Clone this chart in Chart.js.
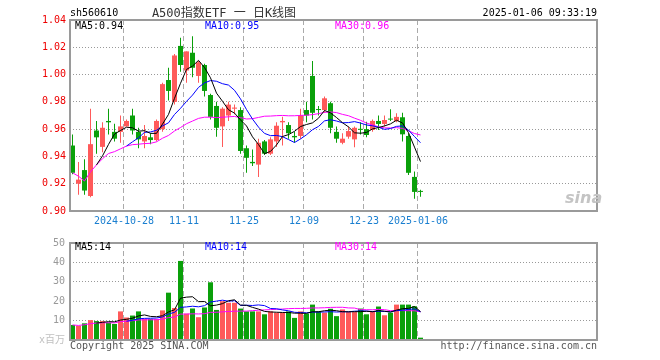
<!DOCTYPE html>
<html>
<head>
<meta charset="utf-8">
<script src="https://cdn.jsdelivr.net/npm/chart.js@4.4.1/dist/chart.umd.min.js"></script>
<style>
  body { margin: 0; background: #fff; width: 660px; height: 360px; overflow: hidden; position: relative;
         font-family: "DejaVu Sans Mono", "Noto Sans CJK SC", monospace; }
  canvas { position: absolute; left: 0; }
  #kCanvas { top: 0; }
  #vCanvas { top: 232px; }
  .t { position: absolute; font-size: 10px; line-height: 12px; white-space: pre; }
</style>
</head>
<body>
<canvas id="kCanvas" width="660" height="232"></canvas>
<canvas id="vCanvas" width="660" height="128"></canvas>

<div class="t" style="left:70px;top:7px;color:#000">sh560610</div>
<div class="t" style="left:224px;top:6px;font-size:12px;line-height:14px;color:#333;transform:translateX(-50%)">A500指数ETF 一 日K线图</div>
<div class="t" style="right:63px;top:7px;color:#000">2025-01-06 09:33:19</div>

<div class="t" style="left:75px;top:20px;color:#000">MA5:0.94</div>
<div class="t" style="left:205px;top:20px;color:#0000ff">MA10:0.95</div>
<div class="t" style="left:335px;top:20px;color:#ff00ff">MA30:0.96</div>

<div class="t" style="left:75px;top:241px;color:#000">MA5:14</div>
<div class="t" style="left:205px;top:241px;color:#0000ff">MA10:14</div>
<div class="t" style="left:335px;top:241px;color:#ff00ff">MA30:14</div>

<div class="t" style="left:565px;top:188px;font:italic bold 16px 'DejaVu Sans';color:#c4c4c4">sina</div>

<div class="t" style="left:70px;top:340px;color:#555">Copyright 2025 SINA.COM</div>
<div class="t" style="right:63px;top:340px;color:#555">http://finance.sina.com.cn</div>

<script>
// trading days shown
const dates = [
  '2024-10-15','2024-10-16','2024-10-17','2024-10-18','2024-10-21','2024-10-22','2024-10-23','2024-10-24','2024-10-25',
  '2024-10-28','2024-10-29','2024-10-30','2024-10-31','2024-11-01','2024-11-04','2024-11-05','2024-11-06','2024-11-07','2024-11-08',
  '2024-11-11','2024-11-12','2024-11-13','2024-11-14','2024-11-15','2024-11-18','2024-11-19','2024-11-20','2024-11-21','2024-11-22',
  '2024-11-25','2024-11-26','2024-11-27','2024-11-28','2024-11-29','2024-12-02','2024-12-03','2024-12-04','2024-12-05','2024-12-06',
  '2024-12-09','2024-12-10','2024-12-11','2024-12-12','2024-12-13','2024-12-16','2024-12-17','2024-12-18','2024-12-19','2024-12-20',
  '2024-12-23','2024-12-24','2024-12-25','2024-12-26','2024-12-27','2024-12-30','2024-12-31','2025-01-02','2025-01-03','2025-01-06'
];
const tickDays = ['2024-10-28','2024-11-11','2024-11-25','2024-12-09','2024-12-23','2025-01-06'];
const tickLabels = ['2024-10-28','11-11','11-25','12-09','12-23','2025-01-06'];
const priceTicks = [0.90, 0.92, 0.94, 0.96, 0.98, 1.00, 1.02, 1.04];
const volumeTicks = [0, 10, 20, 30, 40, 50];

const openPrices = [
  0.948,0.920,0.930,0.911,0.959,0.947,0.966,0.958,0.958,
  0.962,0.970,0.958,0.951,0.954,0.952,0.960,0.996,0.980,1.021,
  1.003,1.016,0.999,1.007,0.985,0.977,0.962,0.970,0.975,0.974,
  0.946,0.936,0.934,0.951,0.942,0.951,0.965,0.963,0.955,0.955,
  0.974,0.999,0.9745,0.974,0.979,0.958,0.950,0.9545,0.9525,0.960,
  0.960,0.9594,0.966,0.9638,0.9672,0.966,0.9687,0.955,0.925,0.9145
];
const highPrices = [
  0.956,0.936,0.938,0.975,0.966,0.965,0.975,0.964,0.970,
  0.967,0.975,0.961,0.963,0.957,0.967,0.994,1.005,1.015,1.027,
  1.017,1.028,1.010,1.008,0.986,0.980,0.976,0.980,0.978,0.976,
  0.948,0.945,0.953,0.952,0.954,0.965,0.969,0.965,0.958,0.975,
  0.980,1.010,0.977,0.984,0.980,0.962,0.957,0.962,0.962,0.965,
  0.9655,0.967,0.970,0.970,0.9745,0.9716,0.972,0.957,0.929,0.9155
];
const lowPrices = [
  0.927,0.912,0.912,0.910,0.942,0.943,0.956,0.951,0.950,
  0.962,0.956,0.946,0.946,0.949,0.951,0.958,0.981,0.978,1.002,
  0.994,0.998,0.994,0.984,0.967,0.9545,0.947,0.966,0.971,0.942,
  0.928,0.933,0.925,0.941,0.941,0.947,0.948,0.953,0.950,0.953,
  0.965,0.967,0.970,0.972,0.957,0.950,0.949,0.953,0.9467,0.956,
  0.954,0.958,0.9594,0.962,0.966,0.965,0.951,0.9264,0.909,0.9105
];
const closePrices = [
  0.928,0.923,0.915,0.949,0.954,0.961,0.965,0.953,0.962,
  0.966,0.959,0.9525,0.955,0.952,0.966,0.993,0.988,1.014,1.007,
  1.017,1.005,1.009,0.988,0.969,0.961,0.975,0.978,0.9758,0.944,
  0.939,0.935,0.950,0.942,0.9525,0.9625,0.966,0.957,0.954,0.970,
  0.970,0.972,0.974,0.9826,0.961,0.953,0.953,0.9586,0.961,0.9595,
  0.9557,0.966,0.9638,0.9667,0.967,0.969,0.9562,0.928,0.914,0.914
];
// volume, millions
const volumes = [
  7.75,7.25,8.6,10.25,9.75,9.75,8.9,8.25,14.75,
  11.6,12.6,14.75,10.9,10.9,10.8,15.25,24.4,16.5,40.75,
  13.6,16.25,11.75,16.75,29.75,15.5,20,19.2,19.2,16.2,
  14.75,14.75,14.75,13.25,14.75,14.1,14.1,14.75,11.4,14.75,
  13.6,18.25,14.75,14.1,16.1,12.3,15.75,14.4,14.4,16.2,
  13.25,14.75,17.25,12.75,14.1,18.25,18.25,18.25,17.4,1.2
];

const upColor = '#ff5a5a';
const downColor = '#0aa00a';
const monoFont = '"DejaVu Sans Mono", "Noto Sans CJK SC", monospace';

const barColors = closePrices.map((c, i) => c >= openPrices[i] ? upColor : downColor);
const tickPos = tickDays.map(d => dates.indexOf(d) - 0.4167);

// moving average; fromStart = average whatever is available before n days
function movingAvg(values, n, fromStart) {
  const out = [];
  for (let i = 0; i < values.length; i++) {
    if (i < n - 1 && !fromStart) continue;
    const win = values.slice(Math.max(0, i - n + 1), i + 1);
    out.push({ x: i, y: win.reduce((a, b) => a + b, 0) / win.length });
  }
  return out;
}

function maLines(values) {
  const base = { type: 'line', borderWidth: 1, pointRadius: 0, tension: 0, order: 0, fill: false };
  return [
    Object.assign({ label: 'MA5', data: movingAvg(values, 5, false), borderColor: '#000000' }, base),
    Object.assign({ label: 'MA10', data: movingAvg(values, 10, false), borderColor: '#0000ff' }, base),
    Object.assign({ label: 'MA30', data: movingAvg(values, 30, true), borderColor: '#ff00ff' }, base)
  ];
}

// gray frame round the plot area
const framePlugin = {
  id: 'frame',
  afterDraw(chart) {
    const a = chart.chartArea, ctx = chart.ctx;
    ctx.save();
    ctx.strokeStyle = '#9a9a9a';
    ctx.lineWidth = 2;
    ctx.strokeRect(a.left, a.top, a.right - a.left, a.bottom - a.top);
    ctx.restore();
  }
};

function xScale(showLabels, height) {
  return {
    type: 'linear',
    offset: false,
    min: -0.4167,
    max: 87.4167,
    afterBuildTicks: s => { s.ticks = tickPos.map(v => ({ value: v })); },
    afterFit: s => { s.height = height; },
    grid: { color: '#aaaaaa', lineWidth: 1, drawTicks: false, offset: false },
    border: { display: false, dash: [5, 3] },
    ticks: {
      display: showLabels,
      autoSkip: false,
      maxRotation: 0,
      padding: 4,
      color: '#1a7fd0',
      font: { family: monoFont, size: 10 },
      callback: (v, idx) => tickLabels[idx]
    }
  };
}

Chart.defaults.animation = false;

new Chart(document.getElementById('kCanvas'), {
  type: 'bar',
  data: {
    datasets: maLines(closePrices).concat([
      {
        label: 'body',
        data: dates.map((d, i) => ({ x: i, y: [openPrices[i], closePrices[i]] })),
        backgroundColor: barColors,
        barThickness: 5, grouped: false, inflateAmount: 0, minBarLength: 1, borderWidth: 0, order: 1
      },
      {
        label: 'wick',
        data: dates.map((d, i) => ({ x: i, y: [lowPrices[i], highPrices[i]] })),
        backgroundColor: barColors,
        barThickness: 1, grouped: false, inflateAmount: 0, minBarLength: 1, borderWidth: 0, order: 2
      }
    ])
  },
  options: {
    responsive: false,
    devicePixelRatio: 1,
    layout: { padding: { top: 20, right: 63, left: 0, bottom: 0 } },
    plugins: { legend: { display: false }, tooltip: { enabled: false } },
    scales: {
      x: xScale(true, 21),
      y: {
        min: 0.90,
        max: 1.04,
        afterBuildTicks: s => { s.ticks = priceTicks.map(v => ({ value: v })); },
        afterFit: s => { s.width = 70; },
        grid: { color: '#999999', drawTicks: false },
        border: { display: false, dash: [1, 2] },
        ticks: {
          padding: 4,
          color: '#ee0000',
          font: { family: monoFont, size: 10 },
          callback: v => v.toFixed(2)
        }
      }
    }
  },
  plugins: [framePlugin]
});

new Chart(document.getElementById('vCanvas'), {
  type: 'bar',
  data: {
    datasets: maLines(volumes).concat([
      {
        label: 'volume',
        data: dates.map((d, i) => ({ x: i, y: volumes[i] })),
        backgroundColor: barColors,
        barThickness: 5, grouped: false, inflateAmount: 0, borderWidth: 0, order: 1
      }
    ])
  },
  options: {
    responsive: false,
    devicePixelRatio: 1,
    layout: { padding: { top: 8, right: 63, left: 0, bottom: 20 } },
    plugins: { legend: { display: false }, tooltip: { enabled: false } },
    scales: {
      x: xScale(false, 0),
      y: {
        min: 0,
        max: 50,
        afterBuildTicks: s => { s.ticks = volumeTicks.map(v => ({ value: v })); },
        afterFit: s => { s.width = 70; },
        grid: { color: '#999999', drawTicks: false },
        border: { display: false, dash: [1, 2] },
        ticks: {
          padding: 5,
          color: c => c.tick && c.tick.value === 0 ? '#c0c0c0' : '#999999',
          font: { family: monoFont, size: 10 },
          callback: v => v === 0 ? 'x百万' : String(v)
        }
      }
    }
  },
  plugins: [framePlugin]
});
</script>
</body>
</html>
